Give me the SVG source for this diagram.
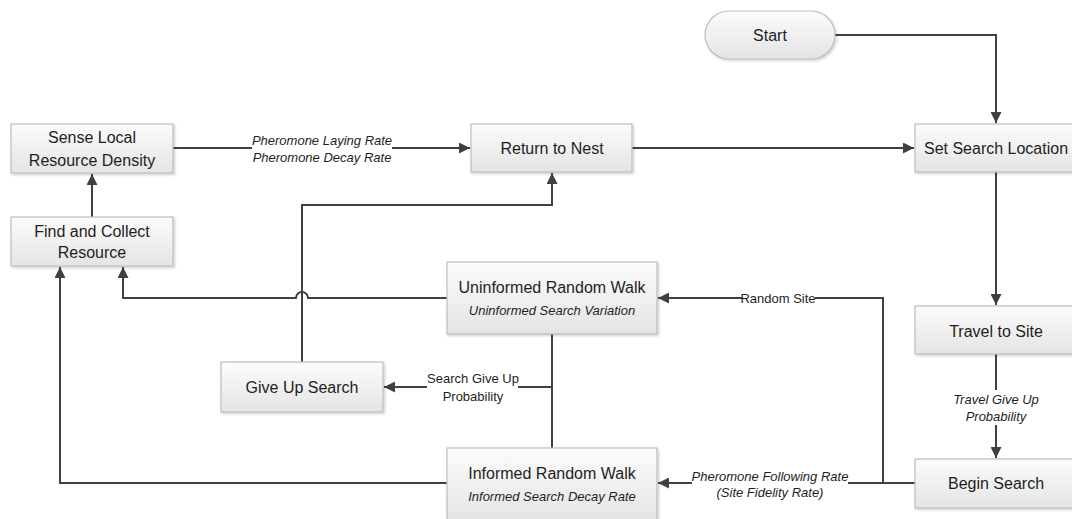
<svg xmlns="http://www.w3.org/2000/svg" width="1072" height="519" viewBox="0 0 1072 519">
<defs>
<linearGradient id="g" x1="0" y1="0" x2="0" y2="1">
<stop offset="0" stop-color="#fcfcfc"/>
<stop offset="1" stop-color="#e4e4e4"/>
</linearGradient>
<filter id="sh" x="-5%" y="-5%" width="115%" height="130%">
<feDropShadow dx="1.5" dy="1.5" stdDeviation="1" flood-color="#000" flood-opacity="0.18"/>
</filter>
<marker id="ah" markerUnits="userSpaceOnUse" markerWidth="12" markerHeight="11" refX="11" refY="5.5" orient="auto">
<path d="M0,0 L11,5.5 L0,11 z" fill="#404040"/>
</marker>
</defs>
<style>
.box{fill:url(#g);stroke:#bdbdbd;stroke-width:1.2;filter:url(#sh)}
.t{font-family:"Liberation Sans",Arial,sans-serif;font-size:16px;fill:#1e1e1e;text-anchor:middle}
.s{font-family:"Liberation Sans",Arial,sans-serif;font-size:13px;fill:#1e1e1e;text-anchor:middle}
.i{font-style:italic}
.c{fill:none;stroke:#404040;stroke-width:2}
.a{marker-end:url(#ah)}
</style>
<rect width="1072" height="519" fill="#fff"/>

<g id="connectors">
<path class="c a" d="M835,35 H996 V123"/>
<path class="c a" d="M632,148 H914"/>
<path class="c" d="M173,148 H252"/>
<path class="c a" d="M392,148 H470"/>
<path class="c a" d="M92,217 V174"/>
<path class="c a" d="M302,362 V205 H552 V173"/>
<path class="c a" d="M447,298 H308 A6,6 0 0 0 296,298 H123 V267"/>
<path class="c a" d="M447,483 H60 V267"/>
<path class="c" d="M552,334 V448"/>
<path class="c" d="M552,387 H518"/>
<path class="c a" d="M427,387 H384"/>
<path class="c a" d="M996,172 V305"/>
<path class="c" d="M996,354 V390"/>
<path class="c a" d="M996,425 V458"/>
<path class="c" d="M915,483 H848"/>
<path class="c a" d="M692,483 H658"/>
<path class="c" d="M883,483 V298 H815"/>
<path class="c a" d="M742,298 H658"/>
<text class="s i" x="322" y="144.5">Pheromone Laying Rate</text>
<text class="s i" x="322" y="161.5">Pheromone Decay Rate</text>
<text class="s" x="473" y="382.5">Search Give Up</text>
<text class="s" x="473" y="400.5">Probability</text>
<text class="s i" x="996" y="403.5">Travel Give Up</text>
<text class="s i" x="996" y="420.5">Probability</text>
<text class="s i" x="770" y="480.5">Pheromone Following Rate</text>
<text class="s i" x="770" y="496.5">(Site Fidelity Rate)</text>
<text class="s" x="778" y="302.5">Random Site</text>
</g>

<g id="start">
<rect class="box" x="705" y="11" width="130" height="48" rx="24" ry="24"/>
<text class="t" x="770" y="40.5">Start</text>
</g>
<g id="sense">
<rect class="box" x="11" y="124" width="162" height="49"/>
<text class="t" x="92" y="142.5">Sense Local</text>
<text class="t" x="92" y="165.5">Resource Density</text>
</g>
<g id="find">
<rect class="box" x="11" y="217" width="162" height="49"/>
<text class="t" x="92" y="236.5">Find and Collect</text>
<text class="t" x="92" y="257.5">Resource</text>
</g>
<g id="return">
<rect class="box" x="471" y="124" width="161" height="48"/>
<text class="t" x="552" y="153.5">Return to Nest</text>
</g>
<g id="setsearch">
<rect class="box" x="915" y="124" width="165" height="48"/>
<text class="t" x="996" y="153.5">Set Search Location</text>
</g>
<g id="uninformed">
<rect class="box" x="447" y="262" width="210" height="72"/>
<text class="t" x="552" y="292.5">Uninformed Random Walk</text>
<text class="s i" x="552" y="314.5">Uninformed Search Variation</text>
</g>
<g id="giveup">
<rect class="box" x="221" y="362" width="162" height="50"/>
<text class="t" x="302" y="392.5">Give Up Search</text>
</g>
<g id="informed">
<rect class="box" x="447" y="448" width="210" height="74"/>
<text class="t" x="552" y="478.5">Informed Random Walk</text>
<text class="s i" x="552" y="500.5">Informed Search Decay Rate</text>
</g>
<g id="travel">
<rect class="box" x="915" y="306" width="165" height="48"/>
<text class="t" x="996" y="336.5">Travel to Site</text>
</g>
<g id="begin">
<rect class="box" x="915" y="459" width="165" height="49"/>
<text class="t" x="996" y="488.5">Begin Search</text>
</g>
</svg>
